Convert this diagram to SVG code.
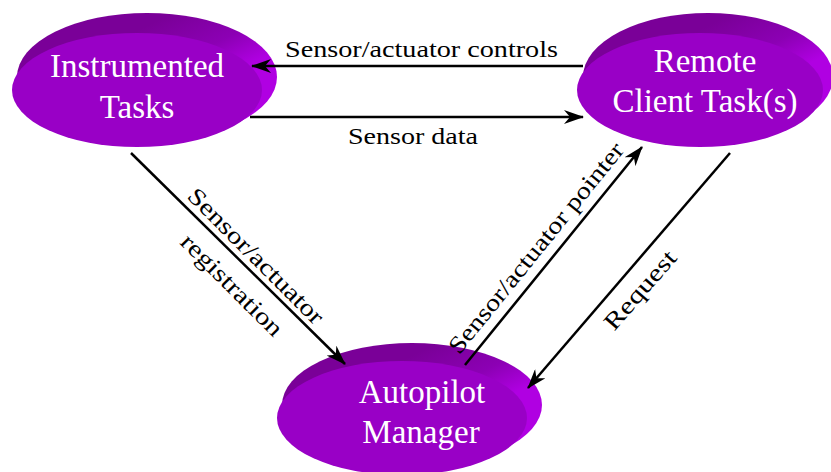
<svg xmlns="http://www.w3.org/2000/svg" width="831" height="472" viewBox="0 0 831 472">
  <defs>
    <!-- side shading of the disc: dark along the top, light on the right -->
    <linearGradient id="discSide" x1="0" y1="0" x2="1" y2="1">
      <stop offset="0.3" stop-color="#7a0098"/>
      <stop offset="0.5" stop-color="#8c00b4"/>
      <stop offset="0.65" stop-color="#b000e2"/>
    </linearGradient>
    <marker id="arrow" viewBox="0 0 20 14" refX="19" refY="7" markerWidth="20" markerHeight="14" orient="auto" markerUnits="userSpaceOnUse">
      <path d="M0,0 L20,7 L0,14 L6,7 Z" fill="#000"/>
    </marker>
    <style>
      .side { fill: url(#discSide); }
      .face { fill: #9900c6; }
      .nodeText { font-family: "Liberation Serif", "Times New Roman", serif; font-size: 33px; fill: #ffffff; text-anchor: middle; }
      .edge { stroke: #000; stroke-width: 2.5; fill: none; marker-end: url(#arrow); }
      .edgeText { font-family: "Liberation Serif", "Times New Roman", serif; font-size: 24px; fill: #000; text-anchor: middle; }
    </style>
  </defs>

  <g id="instrumented-tasks">
    <ellipse class="side" cx="147" cy="77" rx="130" ry="64"/>
    <ellipse class="face" cx="137" cy="90" rx="125" ry="57"/>
    <text class="nodeText" x="137" y="77">Instrumented</text>
    <text class="nodeText" x="137" y="118">Tasks</text>
  </g>

  <g id="remote-client-tasks">
    <ellipse class="side" cx="708" cy="77" rx="125" ry="64"/>
    <ellipse class="face" cx="700" cy="90" rx="123" ry="57"/>
    <text class="nodeText" x="705" y="72">Remote</text>
    <text class="nodeText" x="705" y="112">Client Task(s)</text>
  </g>

  <g id="autopilot-manager">
    <ellipse class="side" cx="412" cy="405" rx="130" ry="62"/>
    <ellipse class="face" cx="402" cy="418" rx="125" ry="57"/>
    <text class="nodeText" x="422" y="403">Autopilot</text>
    <text class="nodeText" x="421" y="443">Manager</text>
  </g>

  <!-- connectors drawn last so arrowheads sit on top of the discs -->
  <g id="connectors">
    <line class="edge" x1="583" y1="66" x2="252" y2="66"/>
    <line class="edge" x1="250" y1="117" x2="583" y2="117"/>
    <line class="edge" x1="131" y1="153" x2="345" y2="364"/>
    <line class="edge" x1="465" y1="365" x2="642" y2="147"/>
    <line class="edge" x1="730" y1="153" x2="528" y2="388"/>

    <text class="edgeText" x="421.5" y="57" textLength="273" lengthAdjust="spacingAndGlyphs">Sensor/actuator controls</text>
    <text class="edgeText" x="413" y="144" textLength="130" lengthAdjust="spacingAndGlyphs">Sensor data</text>
    <text class="edgeText" transform="translate(256,256) rotate(45)" x="0" y="8" textLength="182" lengthAdjust="spacingAndGlyphs">Sensor/actuator</text>
    <text class="edgeText" transform="translate(232,285) rotate(45)" x="0" y="8" textLength="134" lengthAdjust="spacingAndGlyphs">registration</text>
    <text class="edgeText" transform="translate(536,248) rotate(-51)" x="0" y="8" textLength="264" lengthAdjust="spacingAndGlyphs">Sensor/actuator pointer</text>
    <text class="edgeText" transform="translate(640,290) rotate(-49)" x="0" y="8" textLength="97" lengthAdjust="spacingAndGlyphs">Request</text>
  </g>
</svg>
